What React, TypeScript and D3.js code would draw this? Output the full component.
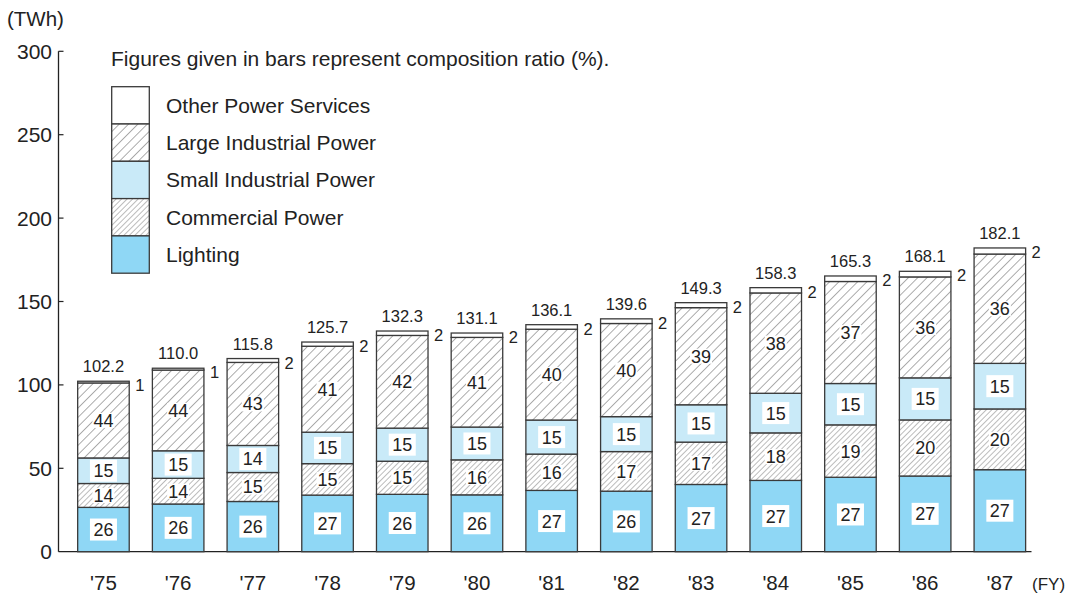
import React from "react";
import * as d3 from "d3";

const years = ["'75", "'76", "'77", "'78", "'79", "'80", "'81", "'82", "'83", "'84", "'85", "'86", "'87"];
const totals = [102.2, 110.0, 115.8, 125.7, 132.3, 131.1, 136.1, 139.6, 149.3, 158.3, 165.3, 168.1, 182.1];
const lighting = [26, 26, 26, 27, 26, 26, 27, 26, 27, 27, 27, 27, 27];
const commercial = [14, 14, 15, 15, 15, 16, 16, 17, 17, 18, 19, 20, 20];
const smallIndustrial = [15, 15, 14, 15, 15, 15, 15, 15, 15, 15, 15, 15, 15];
const largeIndustrial = [44, 44, 43, 41, 42, 41, 40, 40, 39, 38, 37, 36, 36];
const otherServices = [1, 1, 2, 2, 2, 2, 2, 2, 2, 2, 2, 2, 2];
const yTicks = [0, 50, 100, 150, 200, 250, 300];

const seriesDefs = [
  { key: "lighting", name: "Lighting", values: lighting, fill: "#8fd7f5", kind: "solid" },
  { key: "commercial", name: "Commercial Power", values: commercial, fill: "url(#hatchDense)", kind: "hatch" },
  { key: "small", name: "Small Industrial Power", values: smallIndustrial, fill: "#c9eaf8", kind: "solid" },
  { key: "large", name: "Large Industrial Power", values: largeIndustrial, fill: "url(#hatchWide)", kind: "hatch" },
  { key: "other", name: "Other Power Services", values: otherServices, fill: "#ffffff", kind: "other" },
];

const FONT = "'Liberation Sans', Arial, Helvetica, sans-serif";
const STROKE = "#3a3a3a";

export default function App() {
  const x = d3.scaleBand<string>().domain(years).range([66.1, 1037.2]).paddingInner(0.31).paddingOuter(0.155);
  const y = d3.scaleLinear().domain([0, 300]).range([551.7, 51.3]);
  const bw = x.bandwidth();

  const bars = years.map((yr, i) => {
    let cum = 0;
    const segs = seriesDefs.map((s) => {
      const v = (totals[i] * s.values[i]) / 100;
      const y0 = cum;
      cum += v;
      return { ...s, pct: s.values[i], y0, y1: cum };
    });
    return { yr, i, segs };
  });

  const legendOrder = [...seriesDefs].reverse();
  const legX = 111.7, legY = 86.7, legW = 37.6, legH = 37.3;
  const PF = 18;

  return (
    <svg width={1067} height={596} style={{ position: "absolute", left: 0, top: 0, background: "#fff" }} fontFamily={FONT}>
      <defs>
        <pattern id="hatchWide" patternUnits="userSpaceOnUse" width={6.6} height={6.6} patternTransform="rotate(45)">
          <rect width={6.6} height={6.6} fill="#fff" />
          <line x1={0} y1={0} x2={0} y2={6.6} stroke="#6a6a6a" strokeWidth={1.1} />
        </pattern>
        <pattern id="hatchDense" patternUnits="userSpaceOnUse" width={3.9} height={3.9} patternTransform="rotate(45)">
          <rect width={3.9} height={3.9} fill="#fff" />
          <line x1={0} y1={0} x2={0} y2={3.9} stroke="#6a6a6a" strokeWidth={0.9} />
        </pattern>
      </defs>

      {/* Axis */}
      <text x={7} y={26} fontSize={20.5} fill="#222">(TWh)</text>
      <line x1={58.5} x2={58.5} y1={y(300)} y2={y(0)} stroke="#222" strokeWidth={1.3} />
      <line x1={58.5} x2={1031.5} y1={y(0)} y2={y(0)} stroke="#222" strokeWidth={1.3} />
      {yTicks.map((t) => (
        <g key={t}>
          {t > 0 && <line x1={58.5} x2={63.5} y1={y(t)} y2={y(t)} stroke="#222" strokeWidth={1.2} />}
          <text x={52} y={y(t) + 7.5} textAnchor="end" fontSize={21} fill="#222">{t}</text>
        </g>
      ))}

      {/* Bars */}
      {bars.map((b) => {
        const bx = x(b.yr)!;
        const top = y(totals[b.i]);
        return (
          <g key={b.yr}>
            {b.segs.map((s) => (
              <rect key={s.key} x={bx} y={y(s.y1)} width={bw} height={y(s.y0) - y(s.y1)} fill={s.fill} stroke={STROKE} strokeWidth={1.3} />
            ))}
            {b.segs.filter((s) => s.kind !== "other").map((s) => {
              const cy = (y(s.y0) + y(s.y1)) / 2;
              const cx = bx + bw / 2;
              const label = String(s.pct);
              const tw = label.length * 0.556 * PF;
              const solid = s.kind === "solid";
              const padX = solid ? 3.5 : 1;
              const padY = solid ? 4.5 : 1;
              const ch = 13;
              return (
                <g key={s.key + "l"}>
                  <rect x={cx - tw / 2 - padX} y={cy - ch / 2 - padY} width={tw + padX * 2} height={ch + padY * 2} fill="#fff" />
                  <text x={cx} y={cy + 6.5} textAnchor="middle" fontSize={PF} fill="#222">{label}</text>
                </g>
              );
            })}
            <text x={bx + bw / 2} y={top - 9} textAnchor="middle" fontSize={16.5} fill="#222">{totals[b.i].toFixed(1)}</text>
            <text x={bx + bw + 6} y={top + 10} fontSize={16.5} fill="#222">{otherServices[b.i]}</text>
            <text x={bx + bw / 2} y={590} textAnchor="middle" fontSize={20.5} fill="#222">{b.yr}</text>
          </g>
        );
      })}
      <text x={1032} y={590} fontSize={17} fill="#222">(FY)</text>

      {/* Legend */}
      <text x={111} y={66} fontSize={21} fill="#222">Figures given in bars represent composition ratio (%).</text>
      {legendOrder.map((s, k) => (
        <g key={s.key}>
          <rect x={legX} y={legY + k * legH} width={legW} height={legH} fill={s.fill} stroke={STROKE} strokeWidth={1.3} />
          <text x={166} y={legY + k * legH + legH / 2 + 7.5} fontSize={21} fill="#222">{s.name}</text>
        </g>
      ))}
    </svg>
  );
}
